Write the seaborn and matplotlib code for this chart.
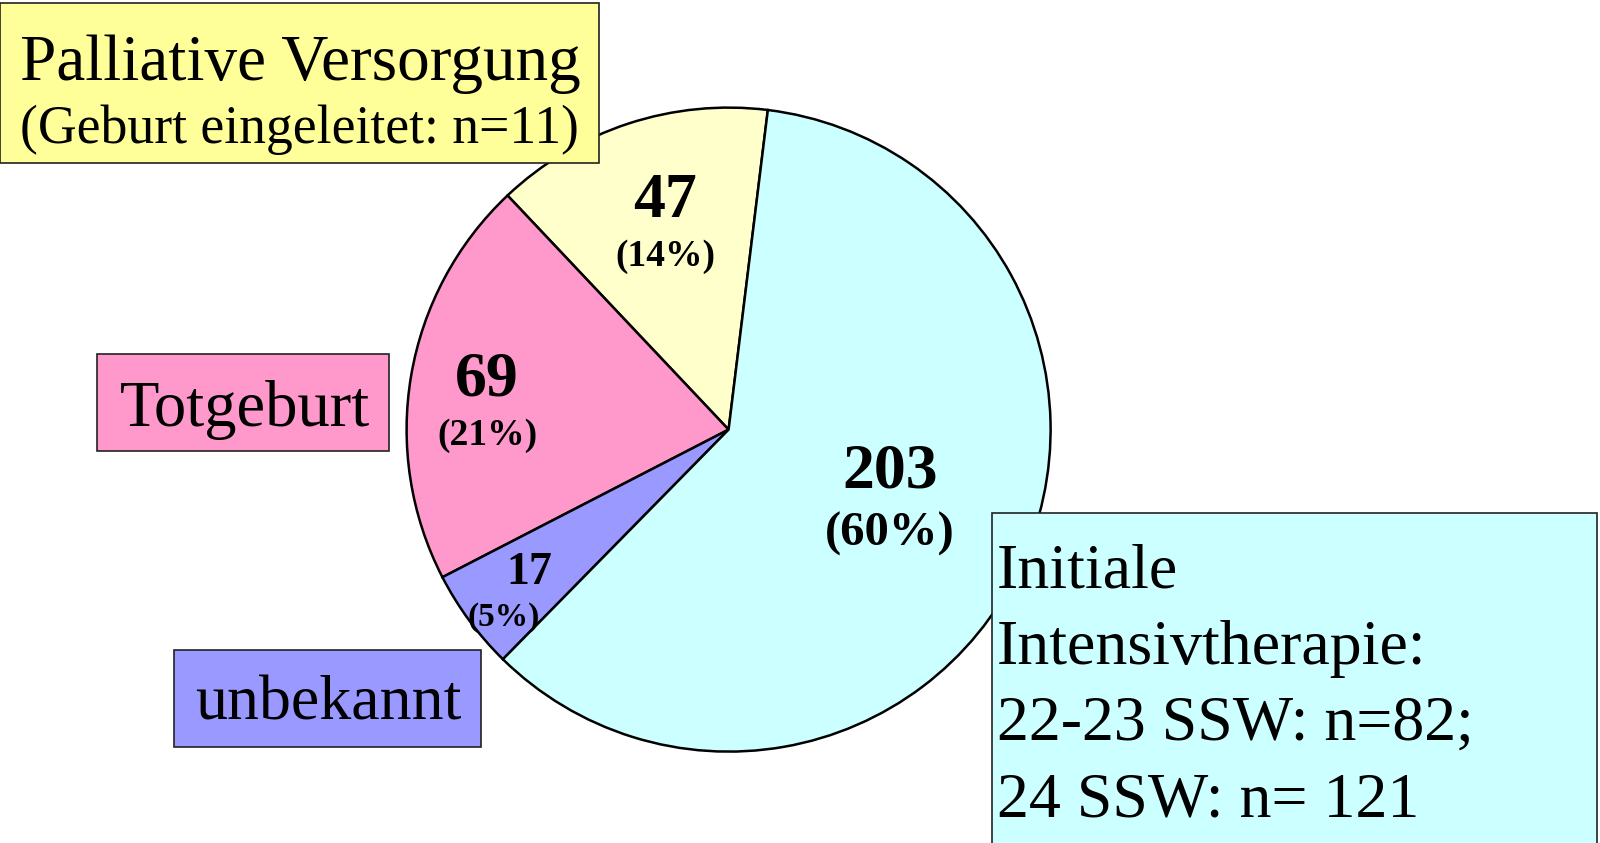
import matplotlib.pyplot as plt
from matplotlib.patches import Rectangle
import seaborn as sns

sns.set_theme(style="white")
plt.rcParams['font.family'] = ['Liberation Serif', 'DejaVu Serif']
plt.rcParams['text.color'] = 'black'

# data
categories = ["Palliative Versorgung", "Totgeburt", "unbekannt", "Initiale Intensivtherapie"]
counts = [47, 69, 17, 203]
slice_colors = ["#FFFFCC", "#FF99CC", "#9999FF", "#CCFFFF"]
box_colors = ["#FFFF99", "#FF99CC", "#9999FF", "#CCFFFF"]
box_texts = [
    "Palliative Versorgung",
    "Totgeburt",
    "unbekannt",
    "Initiale\nIntensivtherapie:\n22-23 SSW: n=82;\n24 SSW: n= 121",
]

W, H = 1600, 843
fig = plt.figure(figsize=(W / 100, H / 100), dpi=100)
ax = fig.add_axes([0, 0, 1, 1])


def Y(y):
    # image pixel row -> data y
    return H - y


cx, cy, r = 728.6, 429.6, 322
ax.pie(counts, colors=slice_colors, startangle=83, counterclock=True,
       center=(cx, Y(cy)), radius=r, frame=True,
       wedgeprops=dict(edgecolor="black", linewidth=1.8))
ax.set_xlim(0, W)
ax.set_ylim(0, H)
ax.set_aspect("equal")
ax.axis("off")

total = sum(counts)
pcts = [round(c / total * 100) for c in counts]

# in-slice labels: (x count, x pct, count baseline, pct baseline, count size, pct size)
lab_pos = [
    (665, 665, 217, 266, 46, 27),
    (487, 487, 395, 445, 46, 27),
    (529, 504, 584, 626, 33, 24),
    (890, 890, 487, 546, 46, 35),
]
for c, p, (x1, x2, yb1, yb2, s1, s2) in zip(counts, pcts, lab_pos):
    ax.text(x1, Y(yb1), str(c), ha="center", va="baseline",
            fontsize=s1, fontweight="bold", zorder=5)
    ax.text(x2, Y(yb2), f"({p}%)", ha="center", va="baseline",
            fontsize=s2, fontweight="bold", zorder=5)

# label boxes: (x0, y0, x1, y1) in image pixels
boxes = [
    (0, 3, 599, 163),
    (97, 354, 389, 451),
    (174, 650, 481, 747),
    (992, 513, 1597, 845),
]
for (x0, y0, x1, y1), col in zip(boxes, box_colors):
    ax.add_patch(Rectangle((x0, Y(y1)), x1 - x0, y1 - y0, facecolor=col,
                           edgecolor="#222222", linewidth=1.2, zorder=6))

ax.text(20, Y(80), box_texts[0], ha="left", va="baseline", fontsize=47, zorder=7)
ax.text(20, Y(143), "(Geburt eingeleitet: n=11)", ha="left", va="baseline",
        fontsize=38.6, zorder=7)
ax.text(245, Y(410), box_texts[1], ha="center", va="center", fontsize=46.5, zorder=7)
ax.text(328, Y(705), box_texts[2], ha="center", va="center", fontsize=46, zorder=7)
for i, line in enumerate(box_texts[3].split("\n")):
    ax.text(997, Y(587 + i * 76.5), line, ha="left", va="baseline",
            fontsize=46, zorder=7)

fig.savefig("out.png", dpi=100)
